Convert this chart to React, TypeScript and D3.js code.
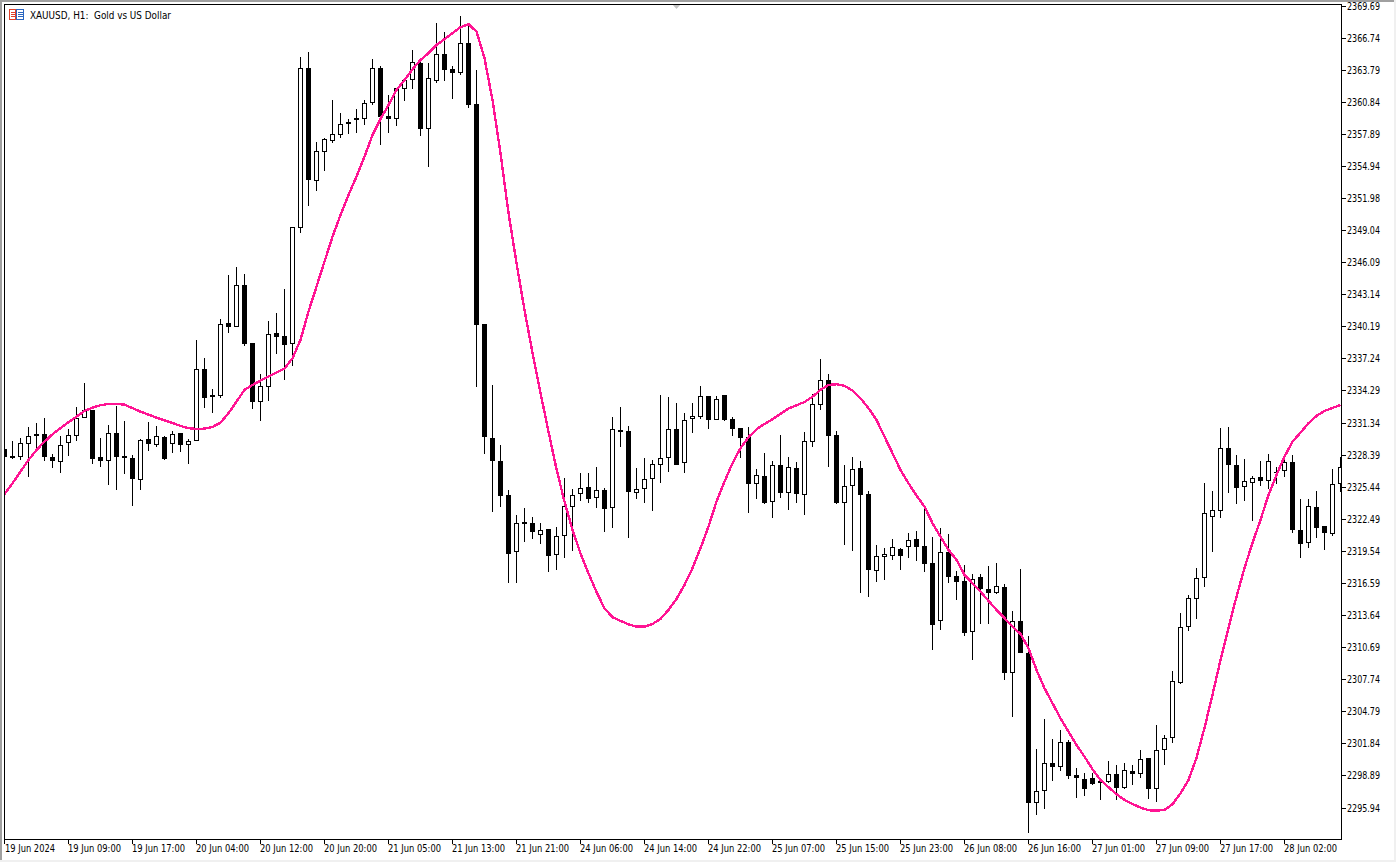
import React from "react";
import * as d3 from "d3";

const W = 1396, H = 862;
const PLOT = { left: 4, right: 1341, top: 4, bottom: 839 };

const title = "XAUUSD, H1:  Gold vs US Dollar";

const priceTicks = [2369.69,2366.74,2363.79,2360.84,2357.89,2354.94,2351.98,2349.04,2346.09,2343.14,2340.19,2337.24,2334.29,2331.34,2328.39,2325.44,2322.49,2319.54,2316.59,2313.64,2310.69,2307.74,2304.79,2301.84,2298.89,2295.94];

const timeLabels = ["19 Jun 2024","19 Jun 09:00","19 Jun 17:00","20 Jun 04:00","20 Jun 12:00","20 Jun 20:00","21 Jun 05:00","21 Jun 13:00","21 Jun 21:00","24 Jun 06:00","24 Jun 14:00","24 Jun 22:00","25 Jun 07:00","25 Jun 15:00","25 Jun 23:00","26 Jun 08:00","26 Jun 16:00","27 Jun 01:00","27 Jun 09:00","27 Jun 17:00","28 Jun 02:00"];
const barsPerLabel = 8;

const highs = [
2329.10,2329.65,2329.92,2330.91,2331.28,2331.74,2328.43,2330.08,2330.75,2332.75,
2334.95,2332.50,2329.92,2331.12,2332.89,2331.49,2328.33,2329.80,2331.40,2331.03,
2330.11,2330.57,2330.36,2329.80,2338.94,2337.25,2334.40,2340.87,2344.91,2345.65,
2344.98,2338.66,2335.81,2340.66,2341.42,2343.63,2349.30,2364.96,2365.42,2357.14,
2357.48,2361.00,2359.81,2359.26,2360.18,2361.00,2364.77,2364.13,2361.46,2362.08,
2362.91,2365.57,2364.68,2364.38,2368.06,2367.23,2364.13,2368.73,2368.06,2363.76,
2340.41,2334.80,2329.28,2325.12,2322.84,2323.49,2322.66,2322.08,2321.56,2321.74,
2326.22,2325.21,2326.71,2326.71,2327.23,2325.30,2331.83,2332.75,2331.00,2327.14,
2328.06,2327.90,2333.88,2333.67,2333.12,2332.20,2333.12,2334.71,2333.76,2333.76,
2333.91,2331.83,2330.82,2330.91,2327.07,2328.52,2327.78,2330.17,2328.15,2327.69,
2330.45,2333.94,2337.16,2335.78,2330.57,2327.41,2328.15,2327.78,2325.05,2320.06,
2319.78,2320.64,2319.78,2321.19,2321.37,2323.76,2320.79,2321.62,2321.07,2317.69,
2318.25,2317.42,2317.39,2318.15,2318.40,2316.47,2313.99,2317.85,2311.72,2301.33,
2304.06,2302.25,2303.07,2302.15,2299.58,2299.12,2299.12,2298.54,2300.20,2299.83,
2300.01,2299.83,2301.23,2300.50,2303.53,2302.61,2308.50,2313.83,2315.49,2317.97,
2325.81,2325.05,2330.84,2330.94,2328.36,2327.99,2326.43,2327.81,2328.45,2327.29,
2327.97,2328.36,2324.29,2324.29,2325.05,2321.81,2327.07,2328.20];

const lows = [
2327.90,2327.97,2327.90,2326.37,2328.89,2327.84,2327.17,2326.73,2328.27,2329.65,
2331.76,2327.53,2327.26,2325.60,2325.14,2326.61,2323.67,2325.14,2328.73,2329.12,
2327.90,2328.55,2328.64,2327.53,2329.65,2332.68,2332.22,2333.63,2339.61,2340.10,
2338.41,2332.59,2331.49,2333.33,2337.65,2335.26,2336.57,2348.80,2351.26,2352.64,
2354.48,2357.08,2357.51,2357.88,2357.97,2358.71,2360.57,2356.87,2357.97,2358.61,
2360.91,2362.02,2357.69,2354.87,2362.60,2362.75,2361.10,2363.33,2360.27,2334.64,
2328.45,2323.15,2323.61,2316.62,2316.62,2320.36,2320.66,2320.20,2317.63,2317.79,
2318.92,2319.56,2324.16,2323.98,2323.52,2321.28,2321.68,2329.12,2320.76,2324.34,
2323.98,2323.24,2325.81,2326.83,2327.47,2326.73,2330.41,2331.70,2330.78,2331.55,
2331.52,2330.14,2328.11,2323.06,2324.34,2323.88,2322.60,2324.43,2323.30,2323.95,
2322.87,2329.10,2332.53,2327.29,2323.88,2320.11,2319.56,2315.70,2315.33,2316.71,
2316.87,2318.73,2317.79,2318.92,2318.64,2317.63,2310.46,2312.27,2316.62,2315.06,
2311.75,2309.51,2312.85,2312.85,2315.61,2307.70,2304.30,2310.18,2293.58,2295.29,
2295.84,2298.41,2299.33,2298.54,2296.85,2297.03,2298.04,2296.66,2298.23,2296.66,
2297.68,2298.02,2298.63,2296.73,2296.48,2299.86,2301.91,2307.28,2312.21,2313.28,
2316.25,2319.44,2322.60,2324.89,2323.88,2324.16,2322.32,2325.54,2325.26,2325.72,
2326.37,2321.22,2318.92,2319.81,2320.73,2319.65,2320.91,2324.99];

const opens = [
2328.89,2328.24,2328.21,2329.40,2330.29,2330.26,2328.18,2327.75,2329.49,2330.14,
2331.79,2332.50,2328.18,2327.84,2330.38,2328.24,2328.09,2326.09,2329.83,2329.31,
2330.02,2329.40,2330.36,2329.31,2329.68,2336.24,2333.67,2333.81,2340.47,2340.10,
2343.97,2338.66,2333.26,2334.64,2339.58,2339.30,2338.60,2349.26,2363.92,2353.58,
2356.25,2357.26,2357.81,2358.98,2359.35,2359.29,2360.76,2363.92,2359.53,2359.29,
2362.04,2362.87,2364.38,2358.37,2362.78,2365.23,2363.86,2363.51,2366.22,2360.61,
2340.41,2329.90,2327.81,2324.66,2319.47,2322.17,2322.08,2320.98,2321.56,2319.14,
2320.89,2323.61,2324.75,2325.39,2324.38,2325.14,2323.46,2330.63,2330.54,2324.90,
2325.21,2326.13,2327.47,2328.06,2330.72,2327.65,2331.64,2331.88,2333.76,2331.55,
2333.85,2331.64,2330.82,2329.99,2325.67,2326.40,2324.07,2327.41,2324.89,2327.14,
2324.71,2329.58,2332.99,2335.23,2330.17,2323.97,2325.54,2327.14,2324.75,2317.72,
2319.01,2319.10,2319.69,2319.87,2320.61,2319.97,2318.40,2313.07,2319.47,2317.21,
2316.78,2312.11,2317.12,2316.01,2315.70,2316.20,2308.29,2313.07,2310.15,2296.33,
2297.44,2300.04,2299.70,2301.97,2298.94,2298.54,2298.66,2298.38,2298.32,2299.00,
2297.77,2299.28,2299.00,2300.50,2297.62,2301.21,2302.31,2307.42,2312.57,2315.15,
2317.02,2322.69,2323.18,2328.98,2327.41,2325.39,2325.76,2326.34,2325.94,2326.80,
2326.86,2327.69,2321.44,2320.24,2323.55,2321.81,2321.13,2325.67];

const closes = [
2328.15,2328.09,2329.44,2330.08,2330.11,2328.21,2327.84,2329.25,2330.17,2331.79,
2332.50,2327.99,2327.84,2330.36,2328.18,2328.09,2326.15,2329.74,2329.37,2330.08,
2327.99,2330.26,2329.31,2329.62,2336.24,2333.63,2333.85,2340.38,2340.16,2343.97,
2338.60,2333.23,2334.68,2339.46,2339.21,2338.50,2349.30,2363.92,2353.68,2356.29,
2357.39,2357.85,2358.77,2358.80,2359.19,2360.70,2363.92,2359.44,2359.29,2362.08,
2362.84,2364.47,2358.34,2363.00,2365.21,2363.76,2363.51,2366.22,2360.54,2340.34,
2330.04,2327.84,2324.62,2319.29,2322.08,2322.04,2321.31,2321.44,2319.10,2320.89,
2323.64,2324.71,2325.35,2324.34,2325.12,2323.42,2330.72,2330.50,2324.99,2325.21,
2326.13,2327.51,2328.06,2330.72,2327.47,2331.55,2331.92,2333.76,2331.61,2333.48,
2331.61,2330.78,2329.95,2325.72,2326.49,2323.95,2327.41,2324.89,2327.23,2324.80,
2329.62,2333.02,2335.23,2330.14,2323.95,2325.48,2327.05,2324.71,2317.81,2319.05,
2319.23,2319.87,2319.10,2320.52,2319.93,2318.37,2312.76,2319.41,2317.17,2316.71,
2312.02,2316.99,2316.07,2315.70,2316.29,2308.34,2313.07,2310.18,2296.39,2297.44,
2300.01,2299.70,2301.94,2298.87,2298.69,2297.68,2298.14,2298.23,2299.00,2297.77,
2299.37,2299.00,2300.44,2297.62,2301.21,2302.31,2307.55,2312.52,2315.18,2317.02,
2323.00,2323.28,2328.98,2327.47,2325.35,2325.94,2326.22,2326.00,2327.78,2326.71,
2327.69,2321.44,2320.20,2323.64,2321.68,2321.22,2325.67,2327.29];

const maLine = [
2324.77,2325.76,2326.83,2327.90,2328.82,2329.58,2330.26,2330.82,2331.37,2331.88,
2332.41,2332.71,2332.93,2333.05,2333.05,2332.99,2332.66,2332.34,2332.07,2331.79,
2331.55,2331.30,2331.03,2330.82,2330.75,2330.78,2330.94,2331.33,2332.20,2333.26,
2334.34,2334.80,2335.19,2335.56,2335.93,2336.30,2337.25,2338.94,2341.54,2343.84,
2346.14,2348.43,2350.43,2352.27,2353.95,2355.79,2357.79,2359.26,2360.54,2361.92,
2362.84,2363.83,2364.68,2365.30,2366.06,2366.59,2367.14,2367.69,2367.97,2367.29,
2364.84,2361.00,2356.10,2350.61,2346.02,2341.69,2337.74,2334.06,2330.50,2327.05,
2324.07,2321.46,2319.32,2317.48,2315.76,2314.26,2313.44,2313.10,2312.79,2312.57,
2312.57,2312.82,2313.28,2314.11,2315.12,2316.41,2317.94,2319.78,2321.77,2324.07,
2325.91,2327.60,2328.98,2329.99,2330.72,2331.21,2331.64,2332.13,2332.62,2332.93,
2333.23,2333.72,2334.34,2334.80,2334.86,2334.71,2334.27,2333.57,2332.66,2331.58,
2330.04,2328.52,2326.98,2325.76,2324.62,2323.61,2322.08,2320.85,2319.63,2318.71,
2317.33,2316.56,2315.79,2314.94,2314.11,2313.35,2312.57,2311.90,2310.59,2308.59,
2306.91,2305.53,2304.15,2302.92,2301.69,2300.62,2299.46,2298.48,2297.81,2297.16,
2296.64,2296.27,2295.93,2295.69,2295.65,2295.72,2296.24,2297.25,2298.48,2300.50,
2303.26,2306.29,2309.51,2312.45,2315.33,2317.97,2320.27,2322.38,2324.68,2326.52,
2328.20,2329.58,2330.41,2331.28,2331.95,2332.41,2332.68,2332.96];

const FONT = "'DejaVu Sans Condensed', 'DejaVu Sans', sans-serif";

export default function App() {
  const x = d3.scaleLinear().domain([0, highs.length - 1]).range([4.5, 1340.5]);
  const y = d3.scaleLinear().domain([priceTicks[0], priceTicks[priceTicks.length - 1]]).range([5.5, 807.5]);
  const line = d3.line<number>().x((_, i) => x(i)).y((d) => y(d));

  return (
    <svg width={W} height={H} viewBox={`0 0 ${W} ${H}`}
      style={{ position: "absolute", left: 0, top: 0, background: "#fff", display: "block" }}>
      <defs>
        <clipPath id="plotClip">
          <rect x={PLOT.left} y={PLOT.top} width={PLOT.right - PLOT.left} height={PLOT.bottom - PLOT.top} />
        </clipPath>
      </defs>
      <rect x={0} y={0} width={W} height={2} fill="#a0a0a0" />
      <rect x={0} y={0} width={2} height={H} fill="#a0a0a0" />
      <rect x={W - 2} y={0} width={2} height={H} fill="#f0f0f0" />
      <rect x={0} y={H - 2} width={W} height={2} fill="#f0f0f0" />

      <g clipPath="url(#plotClip)" shapeRendering="crispEdges">
        {highs.map((h, i) => {
          const col = Math.floor(x(i));
          const top = Math.round(y(Math.max(opens[i], closes[i])));
          const bot = Math.round(y(Math.min(opens[i], closes[i])));
          const bull = closes[i] >= opens[i];
          return (
            <g key={i}>
              <rect x={col} y={Math.round(y(h))} width={1} height={Math.round(y(lows[i])) - Math.round(y(h))} fill="#000" />
              {bull ? (
                <rect x={col - 1.5} y={top + 0.5} width={4} height={Math.max(bot - top - 1, 1)} fill="#fff" stroke="#000" strokeWidth={1} />
              ) : (
                <rect x={col - 2} y={top} width={5} height={Math.max(bot - top, 1)} fill="#000" />
              )}
            </g>
          );
        })}
        <path d={line(maLine) ?? ""} fill="none" stroke="#ff1493" strokeWidth={2.4} strokeLinejoin="round" />
      </g>

      <path d="M672 4 L681 4 L676.5 9 Z" fill="#c4c4c4" />

      <g shapeRendering="crispEdges">
        <rect x={PLOT.left} y={PLOT.top} width={PLOT.right - PLOT.left} height={1} fill="#000" />
        <rect x={PLOT.left} y={PLOT.top} width={1} height={PLOT.bottom - PLOT.top} fill="#000" />
        <rect x={PLOT.right} y={PLOT.top} width={1} height={PLOT.bottom - PLOT.top + 1} fill="#000" />
        <rect x={PLOT.left} y={PLOT.bottom} width={PLOT.right - PLOT.left + 1} height={1} fill="#000" />
        {priceTicks.map((p) => (
          <rect key={p} x={PLOT.right} y={Math.round(y(p))} width={5} height={1} fill="#000" />
        ))}
        {timeLabels.map((t, i) => (
          <rect key={t} x={Math.floor(x(i * barsPerLabel))} y={PLOT.bottom} width={1} height={5} fill="#000" />
        ))}
      </g>

      <g fontFamily={FONT} fontSize={10} fill="#000">
        {priceTicks.map((p) => (
          <text key={p} x={1347} y={Math.round(y(p)) + 4} textLength={33} lengthAdjust="spacingAndGlyphs">{p.toFixed(2)}</text>
        ))}
        {timeLabels.map((t, i) => (
          <text key={t} x={Math.floor(x(i * barsPerLabel)) + (i === 0 ? 1 : 0)} y={852} textLength={i === 0 ? 50 : 53} lengthAdjust="spacingAndGlyphs">{t}</text>
        ))}
        <text x={30} y={19} textLength={141} lengthAdjust="spacingAndGlyphs" style={{ whiteSpace: "pre" }}>{title}</text>
      </g>

      <g shapeRendering="crispEdges">
        <rect x={9.5} y={9.5} width={6} height={10} fill="#fff" stroke="#e0402a" />
        <rect x={16.5} y={9.5} width={7} height={10} fill="#fff" stroke="#2a66c0" />
        <rect x={11} y={12} width={4} height={1} fill="#e0402a" />
        <rect x={11} y={14} width={4} height={1} fill="#e0402a" />
        <rect x={11} y={16} width={4} height={1} fill="#e0402a" />
        <rect x={18} y={12} width={5} height={1} fill="#2a66c0" />
        <rect x={18} y={14} width={5} height={1} fill="#2a66c0" />
        <rect x={18} y={16} width={5} height={1} fill="#2a66c0" />
      </g>
    </svg>
  );
}
